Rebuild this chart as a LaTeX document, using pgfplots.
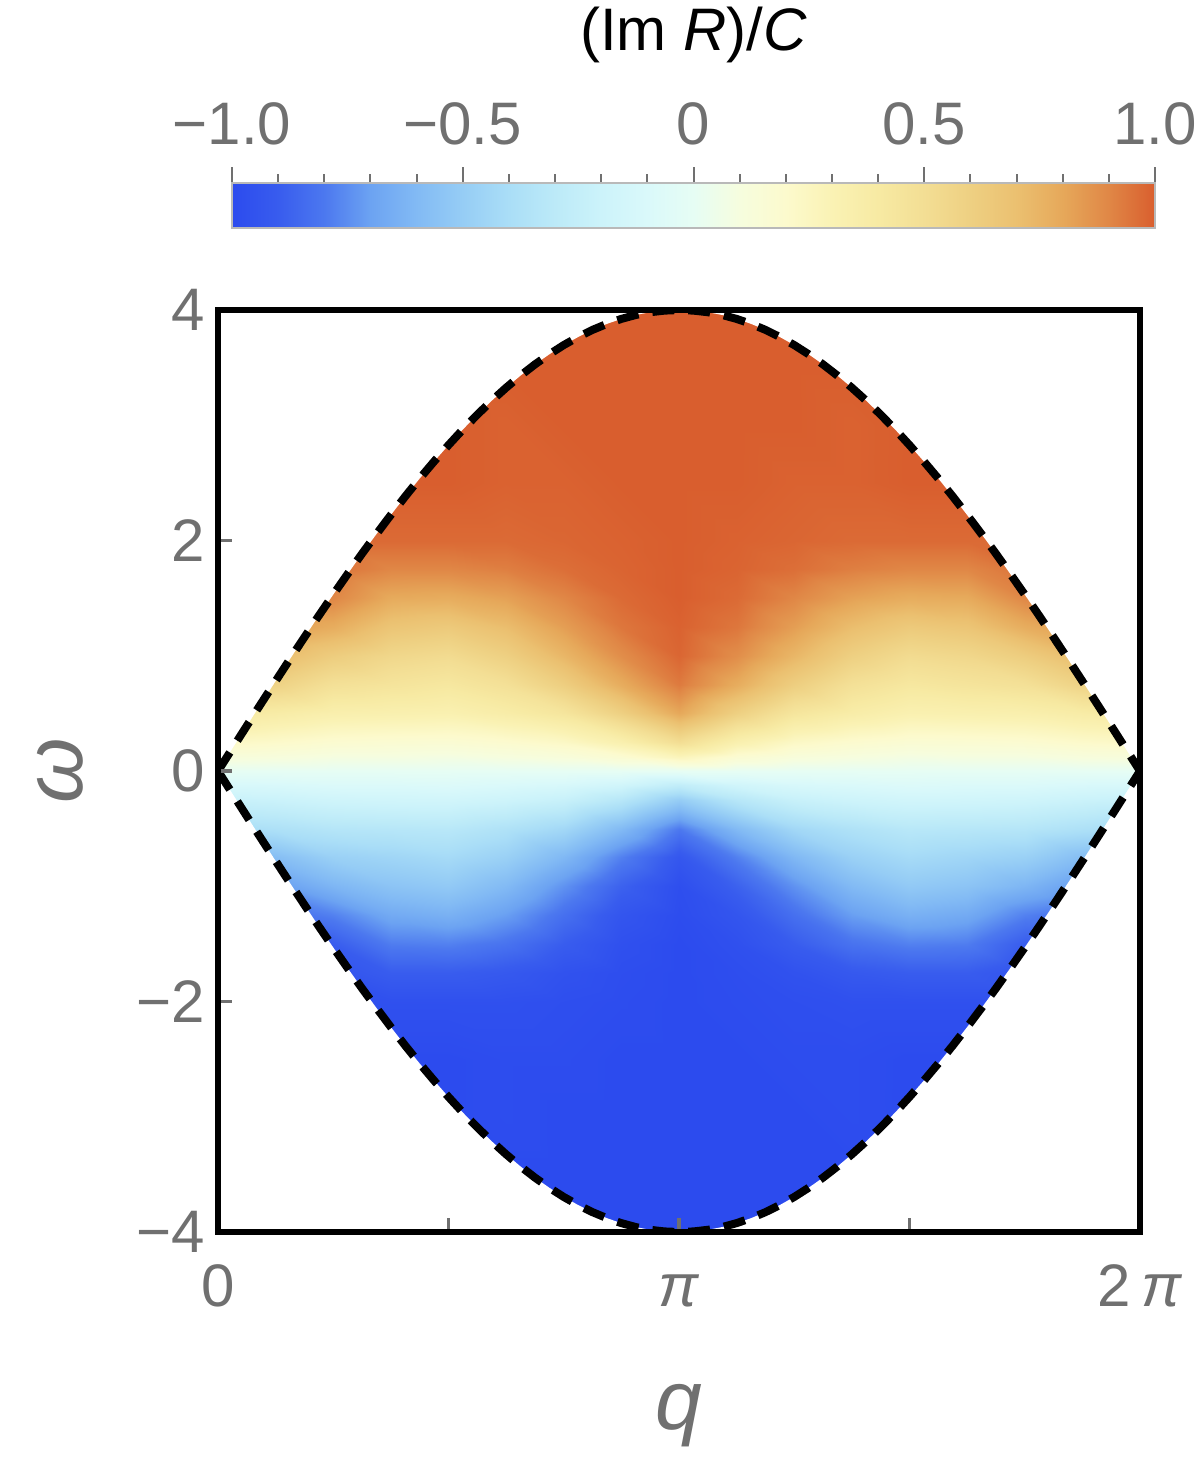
\documentclass[border=0pt]{standalone}
\usepackage{fontspec}
\setmainfont{Liberation Sans}
\usepackage{pgfplots}
\usepackage{pgfplotstable}
\pgfplotsset{compat=1.18}
\definecolor{lab}{RGB}{112,112,112}

\pgfplotstableread{
q b nb
0 0 0
0.0982 0.196 -0.196
0.1963 0.392 -0.392
0.2945 0.587 -0.587
0.3927 0.780 -0.780
0.4909 0.972 -0.972
0.5890 1.161 -1.161
0.6872 1.348 -1.348
0.7854 1.531 -1.531
0.8836 1.710 -1.710
0.9817 1.886 -1.886
1.0799 2.056 -2.056
1.1781 2.222 -2.222
1.2763 2.383 -2.383
1.3744 2.538 -2.538
1.4726 2.686 -2.686
1.5708 2.828 -2.828
1.6690 2.964 -2.964
1.7671 3.092 -3.092
1.8653 3.213 -3.213
1.9635 3.326 -3.326
2.0617 3.431 -3.431
2.1598 3.528 -3.528
2.2580 3.616 -3.616
2.3562 3.696 -3.696
2.4544 3.766 -3.766
2.5525 3.828 -3.828
2.6507 3.880 -3.880
2.7489 3.923 -3.923
2.8471 3.957 -3.957
2.9452 3.981 -3.981
3.0434 3.995 -3.995
3.1416 4.000 -4.000
3.2398 3.995 -3.995
3.3379 3.981 -3.981
3.4361 3.957 -3.957
3.5343 3.923 -3.923
3.6325 3.880 -3.880
3.7306 3.828 -3.828
3.8288 3.766 -3.766
3.9270 3.696 -3.696
4.0252 3.616 -3.616
4.1233 3.528 -3.528
4.2215 3.431 -3.431
4.3197 3.326 -3.326
4.4179 3.213 -3.213
4.5160 3.092 -3.092
4.6142 2.964 -2.964
4.7124 2.828 -2.828
4.8106 2.686 -2.686
4.9087 2.538 -2.538
5.0069 2.383 -2.383
5.1051 2.222 -2.222
5.2033 2.056 -2.056
5.3014 1.886 -1.886
5.3996 1.710 -1.710
5.4978 1.531 -1.531
5.5960 1.348 -1.348
5.6941 1.161 -1.161
5.7923 0.972 -0.972
5.8905 0.780 -0.780
5.9887 0.587 -0.587
6.0868 0.392 -0.392
6.1850 0.196 -0.196
6.2832 0 0
}\bnd

\pgfplotstableread{
q w v
0 -4 -1
0.3927 -4 -1
0.7854 -4 -1
1.1781 -4 -1
1.5708 -4 -1
1.9635 -4 -1
2.3562 -4 -1
2.7489 -4 -1
3.1416 -4 -1
3.5343 -4 -1
3.9270 -4 -1
4.3197 -4 -1
4.7124 -4 -1
5.1051 -4 -1
5.4978 -4 -1
5.8905 -4 -1
6.2832 -4 -1
0 -3.5 -1
0.3927 -3.5 -1
0.7854 -3.5 -1
1.1781 -3.5 -1
1.5708 -3.5 -1
1.9635 -3.5 -1
2.3562 -3.5 -1
2.7489 -3.5 -1
3.1416 -3.5 -1
3.5343 -3.5 -1
3.9270 -3.5 -1
4.3197 -3.5 -1
4.7124 -3.5 -1
5.1051 -3.5 -1
5.4978 -3.5 -1
5.8905 -3.5 -1
6.2832 -3.5 -1
0 -3 -1
0.3927 -3 -1
0.7854 -3 -1
1.1781 -3 -1
1.5708 -3 -1
1.9635 -3 -0.99
2.3562 -3 -1
2.7489 -3 -1
3.1416 -3 -1
3.5343 -3 -1
3.9270 -3 -1
4.3197 -3 -0.99
4.7124 -3 -1
5.1051 -3 -1
5.4978 -3 -1
5.8905 -3 -1
6.2832 -3 -1
0 -2.5 -1
0.3927 -2.5 -1
0.7854 -2.5 -1
1.1781 -2.5 -1
1.5708 -2.5 -1
1.9635 -2.5 -0.99
2.3562 -2.5 -0.99
2.7489 -2.5 -1
3.1416 -2.5 -1
3.5343 -2.5 -1
3.9270 -2.5 -0.99
4.3197 -2.5 -0.99
4.7124 -2.5 -1
5.1051 -2.5 -1
5.4978 -2.5 -1
5.8905 -2.5 -1
6.2832 -2.5 -1
0 -2 -0.98
0.3927 -2 -0.98
0.7854 -2 -0.97
1.1781 -2 -0.97
1.5708 -2 -0.97
1.9635 -2 -0.97
2.3562 -2 -0.98
2.7489 -2 -0.99
3.1416 -2 -1
3.5343 -2 -0.99
3.9270 -2 -0.98
4.3197 -2 -0.97
4.7124 -2 -0.97
5.1051 -2 -0.97
5.4978 -2 -0.97
5.8905 -2 -0.98
6.2832 -2 -0.98
0 -1.75 -0.96
0.3927 -1.75 -0.96
0.7854 -1.75 -0.95
1.1781 -1.75 -0.90
1.5708 -1.75 -0.90
1.9635 -1.75 -0.92
2.3562 -1.75 -0.96
2.7489 -1.75 -0.985
3.1416 -1.75 -1
3.5343 -1.75 -0.985
3.9270 -1.75 -0.96
4.3197 -1.75 -0.92
4.7124 -1.75 -0.90
5.1051 -1.75 -0.90
5.4978 -1.75 -0.95
5.8905 -1.75 -0.96
6.2832 -1.75 -0.96
0 -1.5 -0.92
0.3927 -1.5 -0.92
0.7854 -1.5 -0.90
1.1781 -1.5 -0.79
1.5708 -1.5 -0.78
1.9635 -1.5 -0.82
2.3562 -1.5 -0.90
2.7489 -1.5 -0.97
3.1416 -1.5 -1
3.5343 -1.5 -0.97
3.9270 -1.5 -0.90
4.3197 -1.5 -0.82
4.7124 -1.5 -0.78
5.1051 -1.5 -0.79
5.4978 -1.5 -0.90
5.8905 -1.5 -0.92
6.2832 -1.5 -0.92
0 -1.25 -0.84
0.3927 -1.25 -0.84
0.7854 -1.25 -0.78
1.1781 -1.25 -0.67
1.5708 -1.25 -0.64
1.9635 -1.25 -0.71
2.3562 -1.25 -0.83
2.7489 -1.25 -0.94
3.1416 -1.25 -0.99
3.5343 -1.25 -0.94
3.9270 -1.25 -0.83
4.3197 -1.25 -0.71
4.7124 -1.25 -0.64
5.1051 -1.25 -0.67
5.4978 -1.25 -0.78
5.8905 -1.25 -0.84
6.2832 -1.25 -0.84
0 -1 -0.73
0.3927 -1 -0.72
0.7854 -1 -0.62
1.1781 -1 -0.55
1.5708 -1 -0.52
1.9635 -1 -0.60
2.3562 -1 -0.74
2.7489 -1 -0.88
3.1416 -1 -0.98
3.5343 -1 -0.88
3.9270 -1 -0.74
4.3197 -1 -0.60
4.7124 -1 -0.52
5.1051 -1 -0.55
5.4978 -1 -0.62
5.8905 -1 -0.72
6.2832 -1 -0.73
0 -0.75 -0.60
0.3927 -0.75 -0.58
0.7854 -0.75 -0.48
1.1781 -0.75 -0.45
1.5708 -0.75 -0.42
1.9635 -0.75 -0.48
2.3562 -0.75 -0.61
2.7489 -0.75 -0.78
3.1416 -0.75 -0.93
3.5343 -0.75 -0.78
3.9270 -0.75 -0.61
4.3197 -0.75 -0.48
4.7124 -0.75 -0.42
5.1051 -0.75 -0.45
5.4978 -0.75 -0.48
5.8905 -0.75 -0.58
6.2832 -0.75 -0.60
0 -0.5 -0.42
0.3927 -0.5 -0.38
0.7854 -0.5 -0.34
1.1781 -0.5 -0.33
1.5708 -0.5 -0.32
1.9635 -0.5 -0.37
2.3562 -0.5 -0.44
2.7489 -0.5 -0.60
3.1416 -0.5 -0.80
3.5343 -0.5 -0.60
3.9270 -0.5 -0.44
4.3197 -0.5 -0.37
4.7124 -0.5 -0.32
5.1051 -0.5 -0.33
5.4978 -0.5 -0.34
5.8905 -0.5 -0.38
6.2832 -0.5 -0.42
0 -0.25 -0.23
0.3927 -0.25 -0.21
0.7854 -0.25 -0.18
1.1781 -0.25 -0.17
1.5708 -0.25 -0.165
1.9635 -0.25 -0.19
2.3562 -0.25 -0.23
2.7489 -0.25 -0.33
3.1416 -0.25 -0.505
3.5343 -0.25 -0.33
3.9270 -0.25 -0.23
4.3197 -0.25 -0.19
4.7124 -0.25 -0.165
5.1051 -0.25 -0.17
5.4978 -0.25 -0.18
5.8905 -0.25 -0.21
6.2832 -0.25 -0.23
0 -0.125 -0.12
0.3927 -0.125 -0.11
0.7854 -0.125 -0.09
1.1781 -0.125 -0.09
1.5708 -0.125 -0.08
1.9635 -0.125 -0.10
2.3562 -0.125 -0.12
2.7489 -0.125 -0.17
3.1416 -0.125 -0.27
3.5343 -0.125 -0.17
3.9270 -0.125 -0.12
4.3197 -0.125 -0.10
4.7124 -0.125 -0.08
5.1051 -0.125 -0.09
5.4978 -0.125 -0.09
5.8905 -0.125 -0.11
6.2832 -0.125 -0.12
0 0 0
0.3927 0 0
0.7854 0 0
1.1781 0 0
1.5708 0 0
1.9635 0 0
2.3562 0 0
2.7489 0 0
3.1416 0 0
3.5343 0 0
3.9270 0 0
4.3197 0 0
4.7124 0 0
5.1051 0 0
5.4978 0 0
5.8905 0 0
6.2832 0 0
0 0.125 0.12
0.3927 0.125 0.11
0.7854 0.125 0.09
1.1781 0.125 0.09
1.5708 0.125 0.08
1.9635 0.125 0.10
2.3562 0.125 0.12
2.7489 0.125 0.17
3.1416 0.125 0.27
3.5343 0.125 0.17
3.9270 0.125 0.12
4.3197 0.125 0.10
4.7124 0.125 0.08
5.1051 0.125 0.09
5.4978 0.125 0.09
5.8905 0.125 0.11
6.2832 0.125 0.12
0 0.25 0.23
0.3927 0.25 0.21
0.7854 0.25 0.18
1.1781 0.25 0.17
1.5708 0.25 0.165
1.9635 0.25 0.19
2.3562 0.25 0.23
2.7489 0.25 0.33
3.1416 0.25 0.505
3.5343 0.25 0.33
3.9270 0.25 0.23
4.3197 0.25 0.19
4.7124 0.25 0.165
5.1051 0.25 0.17
5.4978 0.25 0.18
5.8905 0.25 0.21
6.2832 0.25 0.23
0 0.5 0.42
0.3927 0.5 0.38
0.7854 0.5 0.34
1.1781 0.5 0.33
1.5708 0.5 0.32
1.9635 0.5 0.37
2.3562 0.5 0.44
2.7489 0.5 0.60
3.1416 0.5 0.80
3.5343 0.5 0.60
3.9270 0.5 0.44
4.3197 0.5 0.37
4.7124 0.5 0.32
5.1051 0.5 0.33
5.4978 0.5 0.34
5.8905 0.5 0.38
6.2832 0.5 0.42
0 0.75 0.60
0.3927 0.75 0.58
0.7854 0.75 0.48
1.1781 0.75 0.45
1.5708 0.75 0.42
1.9635 0.75 0.48
2.3562 0.75 0.61
2.7489 0.75 0.78
3.1416 0.75 0.93
3.5343 0.75 0.78
3.9270 0.75 0.61
4.3197 0.75 0.48
4.7124 0.75 0.42
5.1051 0.75 0.45
5.4978 0.75 0.48
5.8905 0.75 0.58
6.2832 0.75 0.60
0 1 0.73
0.3927 1 0.72
0.7854 1 0.62
1.1781 1 0.55
1.5708 1 0.52
1.9635 1 0.60
2.3562 1 0.74
2.7489 1 0.88
3.1416 1 0.98
3.5343 1 0.88
3.9270 1 0.74
4.3197 1 0.60
4.7124 1 0.52
5.1051 1 0.55
5.4978 1 0.62
5.8905 1 0.72
6.2832 1 0.73
0 1.25 0.84
0.3927 1.25 0.84
0.7854 1.25 0.78
1.1781 1.25 0.67
1.5708 1.25 0.64
1.9635 1.25 0.71
2.3562 1.25 0.83
2.7489 1.25 0.94
3.1416 1.25 0.99
3.5343 1.25 0.94
3.9270 1.25 0.83
4.3197 1.25 0.71
4.7124 1.25 0.64
5.1051 1.25 0.67
5.4978 1.25 0.78
5.8905 1.25 0.84
6.2832 1.25 0.84
0 1.5 0.92
0.3927 1.5 0.92
0.7854 1.5 0.90
1.1781 1.5 0.79
1.5708 1.5 0.78
1.9635 1.5 0.82
2.3562 1.5 0.90
2.7489 1.5 0.97
3.1416 1.5 1
3.5343 1.5 0.97
3.9270 1.5 0.90
4.3197 1.5 0.82
4.7124 1.5 0.78
5.1051 1.5 0.79
5.4978 1.5 0.90
5.8905 1.5 0.92
6.2832 1.5 0.92
0 1.75 0.96
0.3927 1.75 0.96
0.7854 1.75 0.95
1.1781 1.75 0.90
1.5708 1.75 0.90
1.9635 1.75 0.92
2.3562 1.75 0.96
2.7489 1.75 0.985
3.1416 1.75 1
3.5343 1.75 0.985
3.9270 1.75 0.96
4.3197 1.75 0.92
4.7124 1.75 0.90
5.1051 1.75 0.90
5.4978 1.75 0.95
5.8905 1.75 0.96
6.2832 1.75 0.96
0 2 0.98
0.3927 2 0.98
0.7854 2 0.97
1.1781 2 0.97
1.5708 2 0.97
1.9635 2 0.97
2.3562 2 0.98
2.7489 2 0.99
3.1416 2 1
3.5343 2 0.99
3.9270 2 0.98
4.3197 2 0.97
4.7124 2 0.97
5.1051 2 0.97
5.4978 2 0.97
5.8905 2 0.98
6.2832 2 0.98
0 2.5 1
0.3927 2.5 1
0.7854 2.5 1
1.1781 2.5 1
1.5708 2.5 1
1.9635 2.5 0.99
2.3562 2.5 0.99
2.7489 2.5 1
3.1416 2.5 1
3.5343 2.5 1
3.9270 2.5 0.99
4.3197 2.5 0.99
4.7124 2.5 1
5.1051 2.5 1
5.4978 2.5 1
5.8905 2.5 1
6.2832 2.5 1
0 3 1
0.3927 3 1
0.7854 3 1
1.1781 3 1
1.5708 3 1
1.9635 3 0.99
2.3562 3 1
2.7489 3 1
3.1416 3 1
3.5343 3 1
3.9270 3 1
4.3197 3 0.99
4.7124 3 1
5.1051 3 1
5.4978 3 1
5.8905 3 1
6.2832 3 1
0 3.5 1
0.3927 3.5 1
0.7854 3.5 1
1.1781 3.5 1
1.5708 3.5 1
1.9635 3.5 1
2.3562 3.5 1
2.7489 3.5 1
3.1416 3.5 1
3.5343 3.5 1
3.9270 3.5 1
4.3197 3.5 1
4.7124 3.5 1
5.1051 3.5 1
5.4978 3.5 1
5.8905 3.5 1
6.2832 3.5 1
0 4 1
0.3927 4 1
0.7854 4 1
1.1781 4 1
1.5708 4 1
1.9635 4 1
2.3562 4 1
2.7489 4 1
3.1416 4 1
3.5343 4 1
3.9270 4 1
4.3197 4 1
4.7124 4 1
5.1051 4 1
5.4978 4 1
5.8905 4 1
6.2832 4 1
}\field

\begin{document}
\begin{tikzpicture}
\path[use as bounding box] (-54.5pt,-57pt) rectangle (245.5pt,308pt);
\begin{axis}[
  at={(0,0)}, anchor=south west,
  scale only axis, width=230.5pt, height=230.5pt,
  xmin=0, xmax=6.2832, ymin=-4, ymax=4,
  axis on top,
  axis line style={black, line width=1.4pt},
  tick pos=left, tick align=inside,
  major tick length=3.5pt,
  tick style={lab, line width=0.9pt},
  xtick={0,1.5708,3.1416,4.7124,6.2832},
  xticklabels={0,,\textit{π},,2\,\textit{π}},
  ytick={-4,-2,0,2,4},
  yticklabels={−4,−2,0,2,4},
  tick label style={font=\fontsize{15}{18}\selectfont, text=lab},
  xticklabel style={anchor=base, yshift=-18.5pt},
  yticklabel style={anchor=east, inner sep=0pt, xshift=-3pt},
  xlabel={\textit{q}}, ylabel={\textit{ω}},
  label style={font=\fontsize{21}{24}\selectfont, text=lab},
  xlabel style={at={(axis description cs:0.5,0)}, anchor=center, yshift=-46pt},
  ylabel style={at={(axis description cs:0,0.5)}, anchor=center, yshift=39.5pt},
  colormap={imr}{
    rgb255(0cm)=(44,75,238);
    rgb255(1cm)=(56,92,238);
    rgb255(2cm)=(76,120,239);
    rgb255(3cm)=(108,163,242);
    rgb255(4cm)=(130,186,244);
    rgb255(5cm)=(150,205,245);
    rgb255(6cm)=(170,222,247);
    rgb255(7cm)=(188,234,248);
    rgb255(8cm)=(204,243,250);
    rgb255(9cm)=(218,249,250);
    rgb255(10cm)=(230,253,244);
    rgb255(11cm)=(246,253,222);
    rgb255(12cm)=(252,250,205);
    rgb255(13cm)=(250,242,180);
    rgb255(14cm)=(247,234,163);
    rgb255(15cm)=(243,222,148);
    rgb255(16cm)=(238,208,130);
    rgb255(17cm)=(235,192,112);
    rgb255(18cm)=(230,168,90);
    rgb255(19cm)=(224,135,70);
    rgb255(20cm)=(217,94,46)
  },
  point meta min=-1, point meta max=1,
  colorbar horizontal,
  colorbar style={
    at={(parent axis.north west)}, anchor=south west,
    xshift=3.5pt, yshift=29pt,
    scale only axis, width=230.75pt, height=11.25pt,
    xtick={-1,-0.5,0,0.5,1},
    xticklabels={−1.0,−0.5,0,0.5,1.0},
    minor x tick num=4,
    xtick pos=right, xticklabel pos=right,
    tick align=outside,
    major tick length=4pt, minor tick length=2.2pt,
    tick style={lab, line width=0.5pt},
    axis line style={gray!55, line width=0.6pt},
    xticklabel style={font=\fontsize{15}{18}\selectfont, text=lab, anchor=base, yshift=5.75pt},
    title={(Im \textit{R})/\textit{C}},
    title style={font=\fontsize{15}{18}\selectfont, text=black, at={(0.5,1)}, anchor=base, yshift=27.25pt},
  },
]
\addplot[surf, shader=interp, mesh/rows=27, mesh/cols=17, point meta=explicit]
  table[x=q, y=w, meta=v] {\field};
\addplot[fill=white, draw=none] table[x=q, y=b] {\bnd}
  -- (axis cs:6.2832,4.6) -- (axis cs:0,4.6) -- cycle;
\addplot[fill=white, draw=none] table[x=q, y=nb] {\bnd}
  -- (axis cs:6.2832,-4.6) -- (axis cs:0,-4.6) -- cycle;
\addplot[black, line width=2pt, dash pattern=on 5.5pt off 3.5pt, no marks] table[x=q, y=b] {\bnd};
\addplot[black, line width=2pt, dash pattern=on 5.5pt off 3.5pt, no marks] table[x=q, y=nb] {\bnd};
\end{axis}
\end{tikzpicture}
\end{document}
